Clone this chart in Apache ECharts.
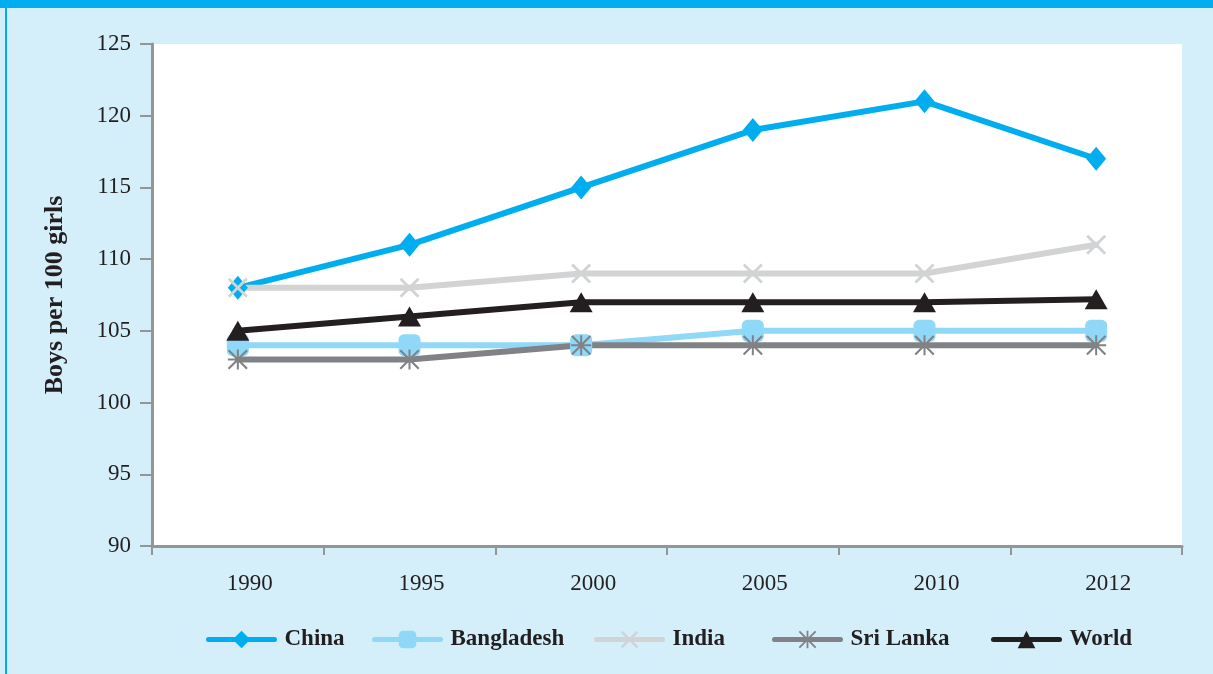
<!DOCTYPE html>
<html>
<head>
<meta charset="utf-8">
<script src="https://cdn.jsdelivr.net/npm/echarts@6/dist/echarts.min.js"></script>
<style>
  html, body { margin: 0; padding: 0; background: #d4eefa; }
  #chart { width: 1213px; height: 674px; }
</style>
</head>
<body>
<div id="chart"></div>
<script>
// 数据
var years = ['1990', '1995', '2000', '2005', '2010', '2012'];
var china = [108, 111, 115, 119, 121, 117];
var bangladesh = [104, 104, 104, 105, 105, 105];
var india = [108, 108, 109, 109, 109, 111];
var sriLanka = [103, 103, 104, 104, 104, 104];
var world = [105, 106, 107, 107, 107, 107.2];
var yTicks = { min: 90, max: 125, interval: 5 };
var seriesNames = ['China', 'Bangladesh', 'India', 'Sri Lanka', 'World'];

// 自定义标记
var crossPath = 'path://M0,2 L2,0 L10,8 L18,0 L20,2 L12,10 L20,18 L18,20 L10,12 L2,20 L0,18 L8,10 Z';
var starPath = 'path://M9,0 H11 V20 H9 Z M0,9 H20 V11 H0 Z M1.5,0 L10,8.5 L18.5,0 L20,1.5 L11.5,10 L20,18.5 L18.5,20 L10,11.5 L1.5,20 L0,18.5 L8.5,10 L0,1.5 Z';

var serif = 'Liberation Serif';

function makeLine(name, data, color, symbol, size) {
	return {
		name: name,
		type: 'line',
		data: data,
		symbol: symbol,
		symbolSize: size,
		symbolKeepAspect: true,
		showAllSymbol: true,
		lineStyle: { color: color, width: 6, cap: 'round' },
		itemStyle: { color: color },
		emphasis: { disabled: true }
	};
}

// 图例每项单独放置（位置不规则）
var legendLeft = [206, 372, 594, 772, 991];
var legends = [];
for (var i = 0; i < seriesNames.length; i++) {
	legends.push({
		left: legendLeft[i],
		top: 628,
		padding: 0,
		itemWidth: 66,
		itemHeight: 22,
		itemGap: 0,
		lineStyle: { width: 5, cap: 'round' },
		textStyle: {
			fontFamily: serif,
			fontWeight: 'bold',
			fontSize: 23,
			color: '#231f20',
			padding: [0, 0, 0, 5]
		},
		data: [seriesNames[i]]
	});
}

var myChart = echarts.init(document.getElementById('chart'));

var option = {
	backgroundColor: '#d4eefa',
	animation: false,
	graphic: [
		{ type: 'rect', shape: { x: 0, y: 0, width: 1213, height: 8 }, style: { fill: '#00aeef' } },
		{ type: 'rect', shape: { x: 5, y: 0, width: 2, height: 674 }, style: { fill: '#00aeef' } }
	],
	grid: {
		left: 152,
		right: 31,
		top: 44,
		bottom: 128,
		show: true,
		backgroundColor: '#ffffff',
		borderWidth: 0
	},
	legend: legends,
	xAxis: {
		type: 'category',
		data: years,
		boundaryGap: true,
		axisLine: { lineStyle: { color: '#939598', width: 3 } },
		axisTick: { show: true, length: 9, lineStyle: { color: '#939598', width: 2 } },
		axisLabel: {
			interval: 0,
			margin: 26,
			fontFamily: serif,
			fontSize: 23,
			color: '#231f20',
			padding: [0, 0, 0, 24]
		},
		splitLine: { show: false }
	},
	yAxis: {
		type: 'value',
		min: yTicks.min,
		max: yTicks.max,
		interval: yTicks.interval,
		name: 'Boys per 100 girls',
		nameLocation: 'middle',
		nameGap: 84,
		nameTextStyle: {
			fontFamily: serif,
			fontWeight: 'bold',
			fontSize: 26,
			color: '#231f20'
		},
		axisLine: { show: true, lineStyle: { color: '#939598', width: 3 } },
		axisTick: { show: true, length: 12, lineStyle: { color: '#939598', width: 2 } },
		axisLabel: {
			margin: 21,
			fontFamily: serif,
			fontSize: 23,
			color: '#231f20'
		},
		splitLine: { show: false }
	},
	series: [
		makeLine('China', china, '#00aeef', 'diamond', [20, 24]),
		makeLine('Bangladesh', bangladesh, '#8fd8f8', 'roundRect', 22),
		makeLine('India', india, '#d1d3d4', crossPath, 20),
		makeLine('Sri Lanka', sriLanka, '#808285', starPath, 20),
		makeLine('World', world, '#231f20', 'triangle', [23, 20])
	]
};

myChart.setOption(option);
</script>
</body>
</html>
